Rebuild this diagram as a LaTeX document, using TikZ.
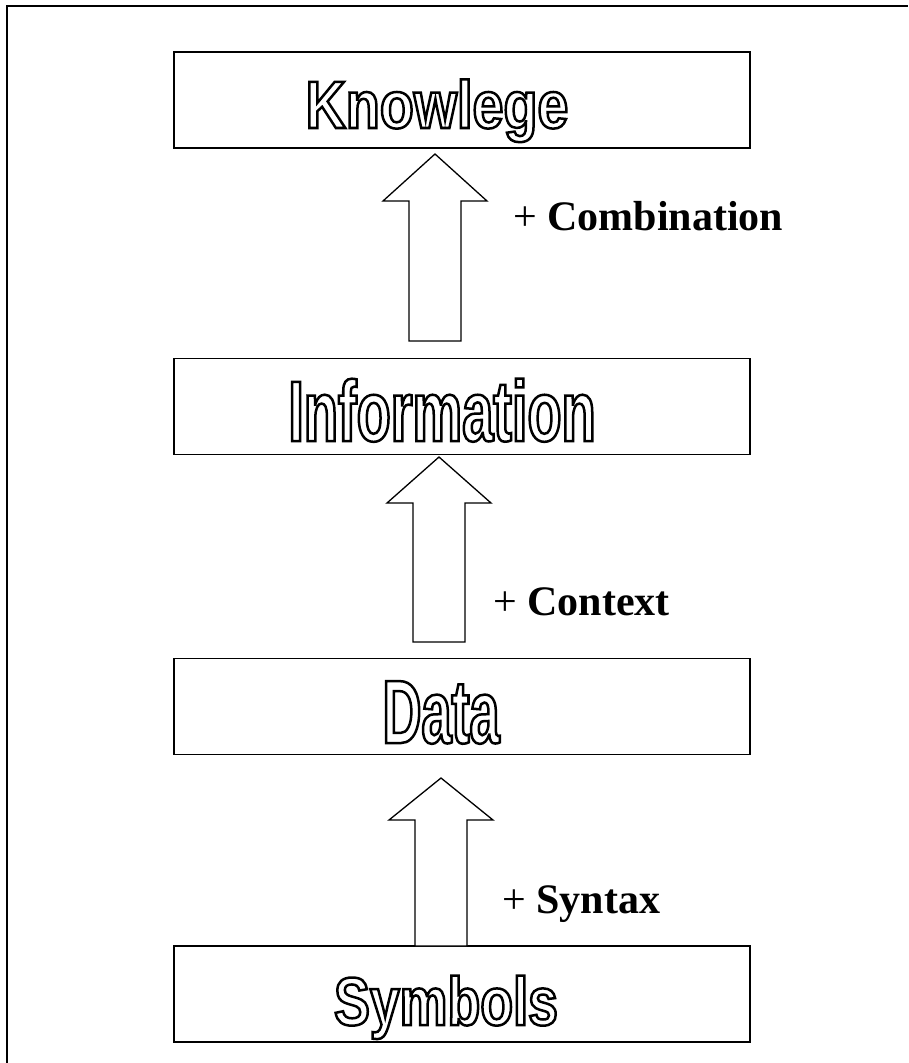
\documentclass[tikz,border=0pt]{standalone}
\usepackage{fontspec}
\setmainfont{Liberation Serif}
\newfontfamily\hollowfont{Liberation Sans}

% hollow (outlined) title word: size, horizontal squeeze, text
% glyphs are stroked only (PDF text render mode 1)
\newcommand{\hollow}[3]{{\hollowfont\bfseries\addfontfeatures{FakeStretch=#2}%
  \fontsize{#1}{#1}\selectfont
  \special{pdf:literal direct 1 Tr 2.5 w}#3\special{pdf:literal direct 0 Tr}}}

% upward block arrow: centre x, tip y, head base y, tail y
\newcommand{\blockarrow}[4]{%
  \draw[arrowline] (#1-26,#4) -- (#1-26,#3) -- (#1-52,#3) -- (#1,#2)
    -- (#1+52,#3) -- (#1+26,#3) -- (#1+26,#4) -- cycle;}

\tikzset{
  levelbox/.style={draw=black, line width=1.5pt, fill=white,
    minimum width=576pt, minimum height=96pt, inner sep=0pt},
  title/.style={anchor=base, inner sep=0pt},
  arrowline/.style={draw=black, line width=1.3pt, line join=miter, fill=white},
  steplabel/.style={anchor=base west, inner sep=0pt, font=\fontsize{42}{48}\selectfont}
}

\begin{document}
\begin{tikzpicture}[x=1pt, y=-1pt]
  \useasboundingbox (0,0) rectangle (908,1063);

  % outer frame (open to the right and bottom)
  \draw[line width=2pt] (6.5,1063) -- (6.5,5.5) -- (908,5.5);

  % level boxes
  \node[levelbox] (know) at (462,100) {};
  \node[levelbox] (info) at (462,406.5) {};
  \node[levelbox] (data) at (462,706.5) {};
  \node[levelbox] (symb) at (462,994) {};

  % block arrows between the levels
  \blockarrow{435}{154}{201}{341}
  \blockarrow{439}{457}{503}{642}
  \blockarrow{441}{778}{820}{946}

  % step labels
  \node[steplabel] (comb) at (513,230) {+ \textbf{Combination}};
  \node[steplabel] (ctx)  at (493,615) {+ \textbf{Context}};
  \node[steplabel] (syn)  at (502,913) {+ \textbf{Syntax}};

  % titles
  \node[title] (knowT) at (437,128)  {\hollow{67}{0.83}{Knowlege}};
  \node[title] (infoT) at (442,441)  {\hollow{86}{0.65}{Information}};
  \node[title] (dataT) at (441,743)  {\hollow{90}{0.60}{Data}};
  \node[title] (symbT) at (446,1025) {\hollow{68}{0.79}{Symbols}};
\end{tikzpicture}
\end{document}
